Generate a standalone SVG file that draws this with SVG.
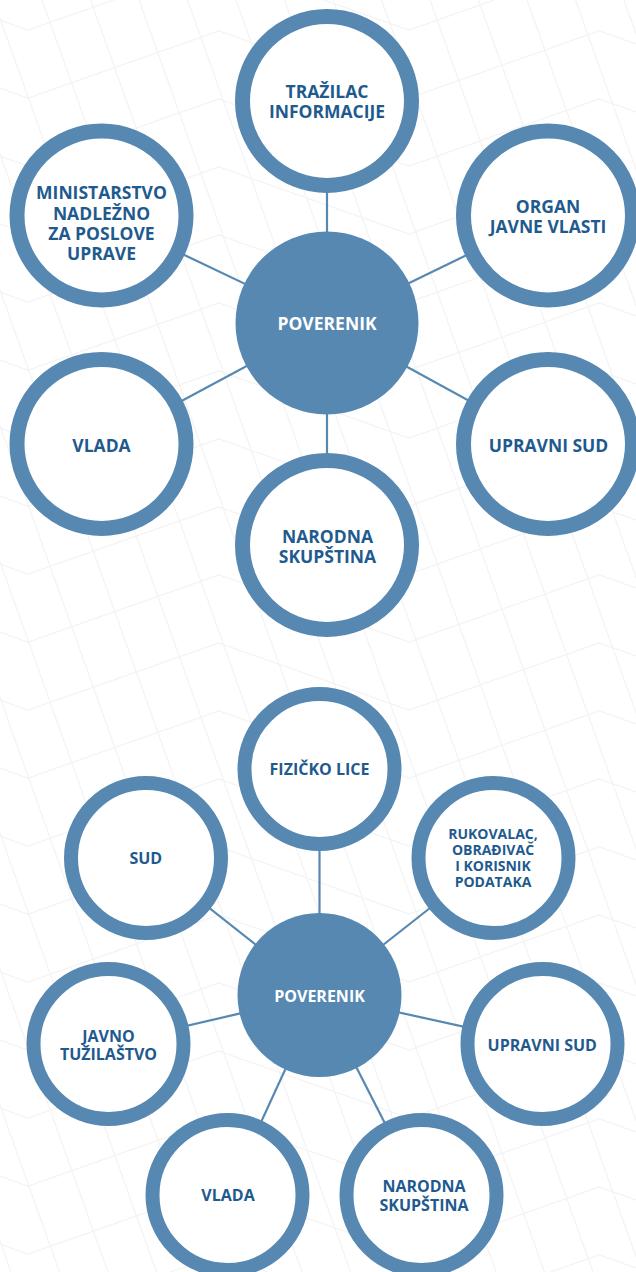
<svg xmlns="http://www.w3.org/2000/svg" width="636" height="1272" viewBox="0 0 636 1272">
  <style>
    .bg { fill: none; stroke: #f3f3f3; stroke-width: 1.2; }
    .edge { stroke: #5688b2; stroke-width: 2.2; fill: none; }
    .ring-lg { fill: #ffffff; stroke: #5688b2; stroke-width: 15; }
    .ring-sm { fill: #ffffff; stroke: #5688b2; stroke-width: 14; }
    .hub { fill: #5688b2; }
    .lbl { font-family: "Open Sans", "Noto Sans", "Liberation Sans", sans-serif; font-weight: 700; fill: #1f5a8e; text-anchor: middle; }
    .lbl-lg { font-size: 17.5px; }
    .lbl-sm { font-size: 16px; }
    .lbl-xs { font-size: 14px; }
    .hub-lbl { fill: #ffffff; }
  </style>
  <defs>
    <polyline id="zig" points="-162,0 28,67 219,0 409,67 599,0 790,67"/>
    <line id="steep" x1="0" y1="0" x2="454" y2="1272"/>
  </defs>

  <rect width="636" height="1272" fill="#ffffff"/>

  <!-- faint lattice backdrop -->
  <g id="backdrop" class="bg">
    <use href="#zig" y="-37"/><use href="#zig" y="31"/><use href="#zig" y="99"/><use href="#zig" y="167"/>
    <use href="#zig" y="235"/><use href="#zig" y="303"/><use href="#zig" y="371"/><use href="#zig" y="439"/>
    <use href="#zig" y="507"/><use href="#zig" y="575"/><use href="#zig" y="643"/><use href="#zig" y="711"/>
    <use href="#zig" y="779"/><use href="#zig" y="847"/><use href="#zig" y="915"/><use href="#zig" y="983"/>
    <use href="#zig" y="1051"/><use href="#zig" y="1119"/><use href="#zig" y="1187"/><use href="#zig" y="1255"/>
    <use href="#steep" x="-443"/><use href="#steep" x="-394.5"/><use href="#steep" x="-346"/><use href="#steep" x="-297.5"/>
    <use href="#steep" x="-249"/><use href="#steep" x="-200.5"/><use href="#steep" x="-152"/><use href="#steep" x="-103.5"/>
    <use href="#steep" x="-55"/><use href="#steep" x="-6.5"/><use href="#steep" x="42"/><use href="#steep" x="90.5"/>
    <use href="#steep" x="139"/><use href="#steep" x="187.5"/><use href="#steep" x="236"/><use href="#steep" x="284.5"/>
    <use href="#steep" x="333"/><use href="#steep" x="381.5"/><use href="#steep" x="430"/><use href="#steep" x="478.5"/>
    <use href="#steep" x="527"/><use href="#steep" x="575.5"/><use href="#steep" x="624"/>
  </g>

  <!-- connectors -->
  <g id="connectors" class="edge">
    <line x1="327" y1="101" x2="327" y2="323"/>
    <line x1="101.5" y1="215.5" x2="327" y2="323"/>
    <line x1="548" y1="215.5" x2="327" y2="323"/>
    <line x1="101.5" y1="444" x2="327" y2="323"/>
    <line x1="548" y1="444" x2="327" y2="323"/>
    <line x1="327" y1="545" x2="327" y2="323"/>

    <line x1="319.5" y1="769" x2="319.5" y2="995"/>
    <line x1="146" y1="858" x2="319.5" y2="995"/>
    <line x1="493.5" y1="858" x2="319.5" y2="995"/>
    <line x1="108.5" y1="1044" x2="319.5" y2="995"/>
    <line x1="542.5" y1="1044" x2="319.5" y2="995"/>
    <line x1="227.5" y1="1195" x2="319.5" y2="995"/>
    <line x1="421.5" y1="1195" x2="319.5" y2="995"/>
  </g>

  <!-- upper cluster -->
  <g id="poverenik-1">
    <circle class="hub" cx="327" cy="323" r="91.5"/>
    <text class="lbl lbl-lg hub-lbl" x="327" y="330">POVERENIK</text>
  </g>
  <g id="trazilac">
    <circle class="ring-lg" cx="327" cy="101" r="84.5"/>
    <text class="lbl lbl-lg"><tspan x="327" y="98">TRAŽILAC</tspan><tspan x="327" y="118">INFORMACIJE</tspan></text>
  </g>
  <g id="ministarstvo">
    <circle class="ring-lg" cx="101.5" cy="215.5" r="84.5"/>
    <text class="lbl lbl-lg"><tspan x="101.5" y="199.3">MINISTARSTVO</tspan><tspan x="101.5" y="219.7">NADLEŽNO</tspan><tspan x="101.5" y="240">ZA POSLOVE</tspan><tspan x="101.5" y="260.3">UPRAVE</tspan></text>
  </g>
  <g id="organ">
    <circle class="ring-lg" cx="548" cy="215.5" r="84.5"/>
    <text class="lbl lbl-lg"><tspan x="548" y="213">ORGAN</tspan><tspan x="548" y="233">JAVNE VLASTI</tspan></text>
  </g>
  <g id="vlada-1">
    <circle class="ring-lg" cx="101.5" cy="444" r="84.5"/>
    <text class="lbl lbl-lg" x="101.5" y="451.5">VLADA</text>
  </g>
  <g id="upravni-sud-1">
    <circle class="ring-lg" cx="548" cy="444" r="84.5"/>
    <text class="lbl lbl-lg" x="548.5" y="451.5">UPRAVNI SUD</text>
  </g>
  <g id="narodna-skupstina-1">
    <circle class="ring-lg" cx="327" cy="545" r="84.5"/>
    <text class="lbl lbl-lg"><tspan x="327.5" y="542.7">NARODNA</tspan><tspan x="327.5" y="562.7">SKUPŠTINA</tspan></text>
  </g>

  <!-- lower cluster -->
  <g id="poverenik-2">
    <circle class="hub" cx="319.5" cy="995" r="82"/>
    <text class="lbl lbl-sm hub-lbl" x="319.5" y="1001.7">POVERENIK</text>
  </g>
  <g id="fizicko-lice">
    <circle class="ring-sm" cx="319.5" cy="769" r="75"/>
    <text class="lbl lbl-sm" x="319.5" y="775">FIZIČKO LICE</text>
  </g>
  <g id="sud">
    <circle class="ring-sm" cx="146" cy="858" r="75"/>
    <text class="lbl lbl-sm" x="145.8" y="864.3">SUD</text>
  </g>
  <g id="rukovalac">
    <circle class="ring-sm" cx="493.5" cy="858" r="75"/>
    <text class="lbl lbl-xs"><tspan x="493" y="839.3">RUKOVALAC,</tspan><tspan x="493" y="855.3">OBRAĐIVAČ</tspan><tspan x="493" y="871.3">I KORISNIK</tspan><tspan x="493" y="887.3">PODATAKA</tspan></text>
  </g>
  <g id="javno-tuzilastvo">
    <circle class="ring-sm" cx="108.5" cy="1044" r="75"/>
    <text class="lbl lbl-sm"><tspan x="108.5" y="1041.7">JAVNO</tspan><tspan x="108.5" y="1060">TUŽILAŠTVO</tspan></text>
  </g>
  <g id="upravni-sud-2">
    <circle class="ring-sm" cx="542.5" cy="1044" r="75"/>
    <text class="lbl lbl-sm" x="542.3" y="1050.7">UPRAVNI SUD</text>
  </g>
  <g id="vlada-2">
    <circle class="ring-sm" cx="227.5" cy="1195" r="75"/>
    <text class="lbl lbl-sm" x="228" y="1200.7">VLADA</text>
  </g>
  <g id="narodna-skupstina-2">
    <circle class="ring-sm" cx="421.5" cy="1195" r="75"/>
    <text class="lbl lbl-sm"><tspan x="424" y="1191.7">NARODNA</tspan><tspan x="424" y="1210.7">SKUPŠTINA</tspan></text>
  </g>
</svg>
